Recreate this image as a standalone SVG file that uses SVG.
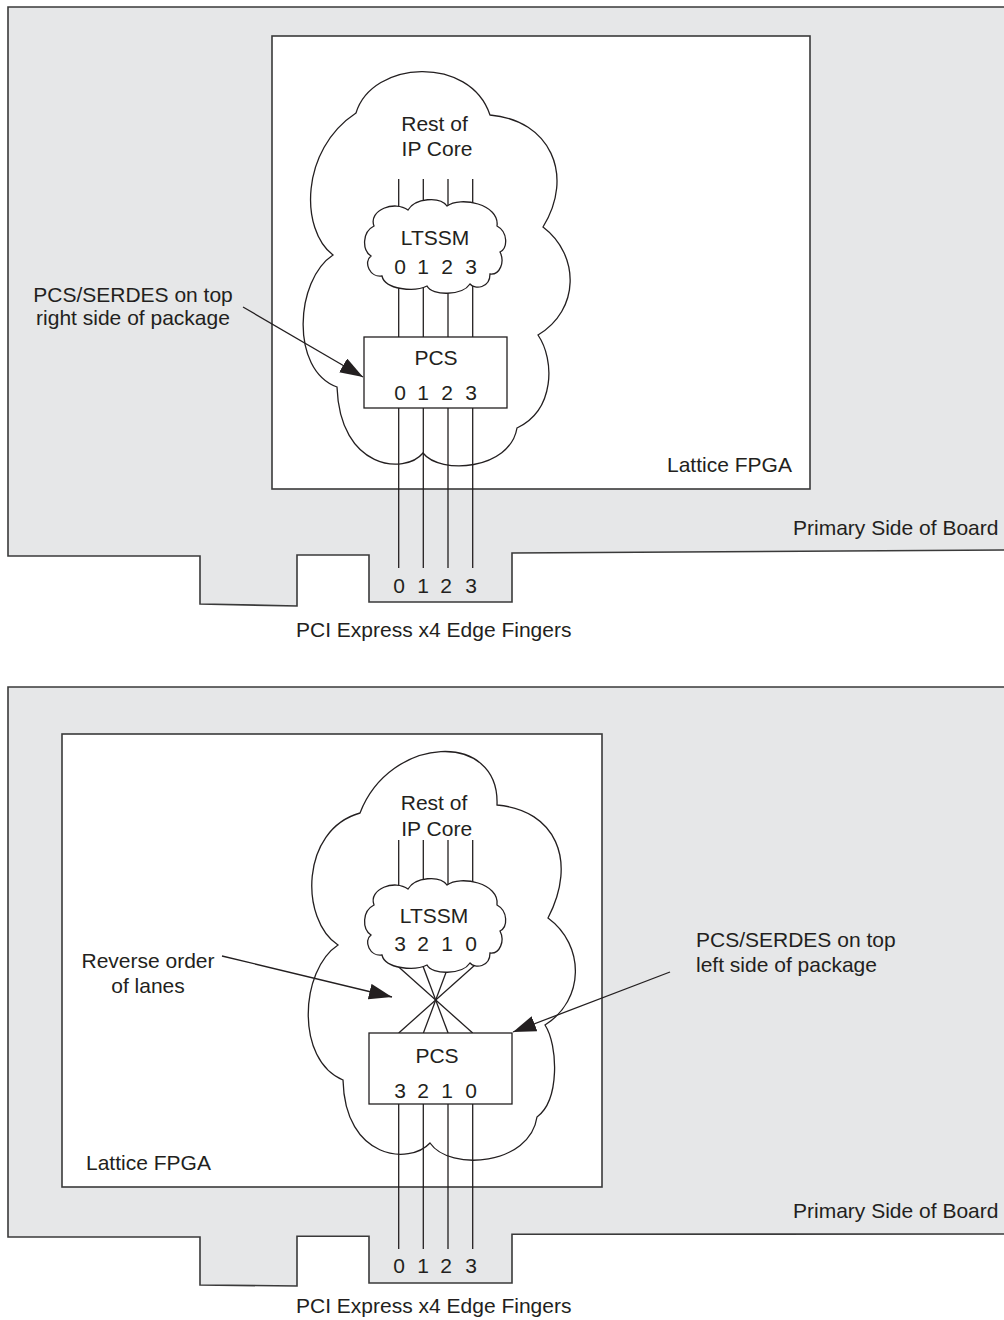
<svg xmlns="http://www.w3.org/2000/svg" width="1004" height="1320" viewBox="0 0 1004 1320">
<defs>
<style>
.board{fill:#e6e7e8;stroke:#3a3a3a;stroke-width:1.6}
.fpga{fill:#ffffff;stroke:#3a3a3a;stroke-width:1.6}
.cloud{fill:#ffffff;stroke:#231f20;stroke-width:1.3}
.box{fill:#ffffff;stroke:#231f20;stroke-width:1.3}
.ln{stroke:#231f20;stroke-width:1.3;fill:none}
.arr{stroke:#231f20;stroke-width:1.3;fill:none;marker-end:url(#ah)}
.t{font-family:"Liberation Sans",Arial,Helvetica,sans-serif;font-size:21px;fill:#231f20}
.m{text-anchor:middle}
</style>
<marker id="ah" markerUnits="userSpaceOnUse" markerWidth="24" markerHeight="16" refX="23" refY="8" orient="auto">
<path d="M0,0 L23,8 L0,16 Z" fill="#231f20"/>
</marker>
</defs>

<!-- ===== TOP DIAGRAM ===== -->
<g id="board-top">
<path class="board" d="M8,7 H1012 V550 L512,553 L512,602 L369,602 L369,555 L297,555 L297,606 L200,604 L200,556 L8,556 Z"/>
<text class="t" x="793" y="535">Primary Side of Board</text>
<text class="t" x="296" y="637">PCI Express x4 Edge Fingers</text>
</g>
<g id="fpga-top">
<rect class="fpga" x="272" y="36" width="538" height="453"/>
<text class="t" x="667" y="472">Lattice FPGA</text>
</g>
<g id="core-top">
<path class="cloud" d="M356,113 C372,60 470,55 490,115 C550,120 575,175 543,227 C580,255 580,310 538,335 C555,360 555,410 517,428 C510,470 440,475 423,453 C405,475 340,470 337,387 C290,370 295,280 333,255 C300,230 300,150 356,113 Z"/>
<text class="t m" x="434.5" y="131">Rest of</text>
<text class="t m" x="437" y="156">IP Core</text>
</g>
<g id="connectors-top">
<line class="ln" x1="398.7" y1="179" x2="398.7" y2="337"/>
<line class="ln" x1="423.3" y1="179" x2="423.3" y2="337"/>
<line class="ln" x1="448" y1="179" x2="448" y2="337"/>
<line class="ln" x1="472.7" y1="179" x2="472.7" y2="337"/>
<line class="ln" x1="398.7" y1="408" x2="398.7" y2="568"/>
<line class="ln" x1="423.3" y1="408" x2="423.3" y2="568"/>
<line class="ln" x1="448" y1="408" x2="448" y2="568"/>
<line class="ln" x1="472.7" y1="408" x2="472.7" y2="568"/>
<line class="arr" x1="243" y1="307" x2="363" y2="377"/>
</g>
<g id="ltssm-top">
<path class="cloud" d="M374,226 C368,210 395,200 408,210 C415,198 440,196 447,206 C460,196 500,204 497,226 C508,232 508,248 500,252 C505,262 500,275 490,274 C490,288 475,290 470,284 C462,296 432,296 427,286 C415,292 385,290 382,276 C370,278 363,262 371,256 C362,250 362,232 374,226 Z"/>
<text class="t m" x="435" y="245">LTSSM</text>
<text class="t" y="274"><tspan x="394.2">0</tspan> <tspan x="417.2">1</tspan> <tspan x="441.2">2</tspan> <tspan x="465.2">3</tspan></text>
</g>
<g id="pcs-top">
<rect class="box" x="364" y="337" width="143" height="71"/>
<text class="t m" x="436" y="365">PCS</text>
<text class="t" y="400"><tspan x="394.2">0</tspan> <tspan x="417.2">1</tspan> <tspan x="441.2">2</tspan> <tspan x="465.2">3</tspan></text>
</g>
<g id="fingers-top">
<text class="t" y="593"><tspan x="393.2">0</tspan> <tspan x="417.2">1</tspan> <tspan x="440.2">2</tspan> <tspan x="465.2">3</tspan></text>
</g>
<g id="label-top">
<text class="t m" x="133" y="302">PCS/SERDES on top</text>
<text class="t m" x="133" y="325">right side of package</text>
</g>

<!-- ===== BOTTOM DIAGRAM ===== -->
<g id="board-bottom">
<path class="board" d="M8,687 H1012 V1234 L512,1234.3 L512,1283 L369,1283 L369,1236.3 L297,1236.3 L297,1286 L200,1285 L200,1237 L8,1237 Z"/>
<text class="t" x="793" y="1218">Primary Side of Board</text>
<text class="t" x="296" y="1313">PCI Express x4 Edge Fingers</text>
</g>
<g id="fpga-bottom">
<rect class="fpga" x="62" y="734" width="540" height="453"/>
<text class="t" x="86" y="1170">Lattice FPGA</text>
</g>
<g id="core-bottom">
<path class="cloud" d="M360,813 C390,735 500,730 497,805 C555,810 578,860 548,918 C585,945 585,1000 545,1025 C558,1045 560,1100 537,1117 C530,1165 450,1172 430,1143 C410,1165 345,1160 343,1080 C295,1060 300,970 338,945 C300,920 300,830 360,813 Z"/>
<text class="t m" x="434" y="810">Rest of</text>
<text class="t m" x="436.7" y="836">IP Core</text>
</g>
<g id="connectors-bottom">
<line class="ln" x1="398.7" y1="840" x2="398.7" y2="905"/>
<line class="ln" x1="423.3" y1="840" x2="423.3" y2="905"/>
<line class="ln" x1="448" y1="840" x2="448" y2="905"/>
<line class="ln" x1="472.7" y1="840" x2="472.7" y2="905"/>
<line class="ln" x1="393.1" y1="962" x2="472.7" y2="1033"/>
<line class="ln" x1="421.4" y1="962" x2="448.1" y2="1033"/>
<line class="ln" x1="449.9" y1="962" x2="423.4" y2="1033"/>
<line class="ln" x1="478.3" y1="962" x2="398.7" y2="1033"/>
<line class="ln" x1="398.7" y1="1104" x2="398.7" y2="1249"/>
<line class="ln" x1="423.3" y1="1104" x2="423.3" y2="1249"/>
<line class="ln" x1="448" y1="1104" x2="448" y2="1249"/>
<line class="ln" x1="472.7" y1="1104" x2="472.7" y2="1249"/>
<line class="arr" x1="222" y1="956" x2="392" y2="997"/>
<line class="arr" x1="670" y1="972" x2="513" y2="1032"/>
</g>
<g id="ltssm-bottom">
<path class="cloud" transform="translate(0,679)" d="M374,226 C368,210 395,200 408,210 C415,198 440,196 447,206 C460,196 500,204 497,226 C508,232 508,248 500,252 C505,262 500,275 490,274 C490,288 475,290 470,284 C462,296 432,296 427,286 C415,292 385,290 382,276 C370,278 363,262 371,256 C362,250 362,232 374,226 Z"/>
<text class="t m" x="434" y="923">LTSSM</text>
<text class="t" y="951"><tspan x="394.2">3</tspan> <tspan x="417.2">2</tspan> <tspan x="441.2">1</tspan> <tspan x="465.2">0</tspan></text>
</g>
<g id="pcs-bottom">
<rect class="box" x="369" y="1033" width="143" height="71"/>
<text class="t m" x="437" y="1063">PCS</text>
<text class="t" y="1098"><tspan x="394.2">3</tspan> <tspan x="417.2">2</tspan> <tspan x="441.2">1</tspan> <tspan x="465.2">0</tspan></text>
</g>
<g id="fingers-bottom">
<text class="t" y="1273"><tspan x="393.2">0</tspan> <tspan x="417.2">1</tspan> <tspan x="440.2">2</tspan> <tspan x="465.2">3</tspan></text>
</g>
<g id="label-reverse">
<text class="t m" x="148" y="968">Reverse order</text>
<text class="t m" x="148" y="993">of lanes</text>
</g>
<g id="label-bottom-right">
<text class="t" x="696" y="947">PCS/SERDES on top</text>
<text class="t" x="696" y="972">left side of package</text>
</g>
</svg>
